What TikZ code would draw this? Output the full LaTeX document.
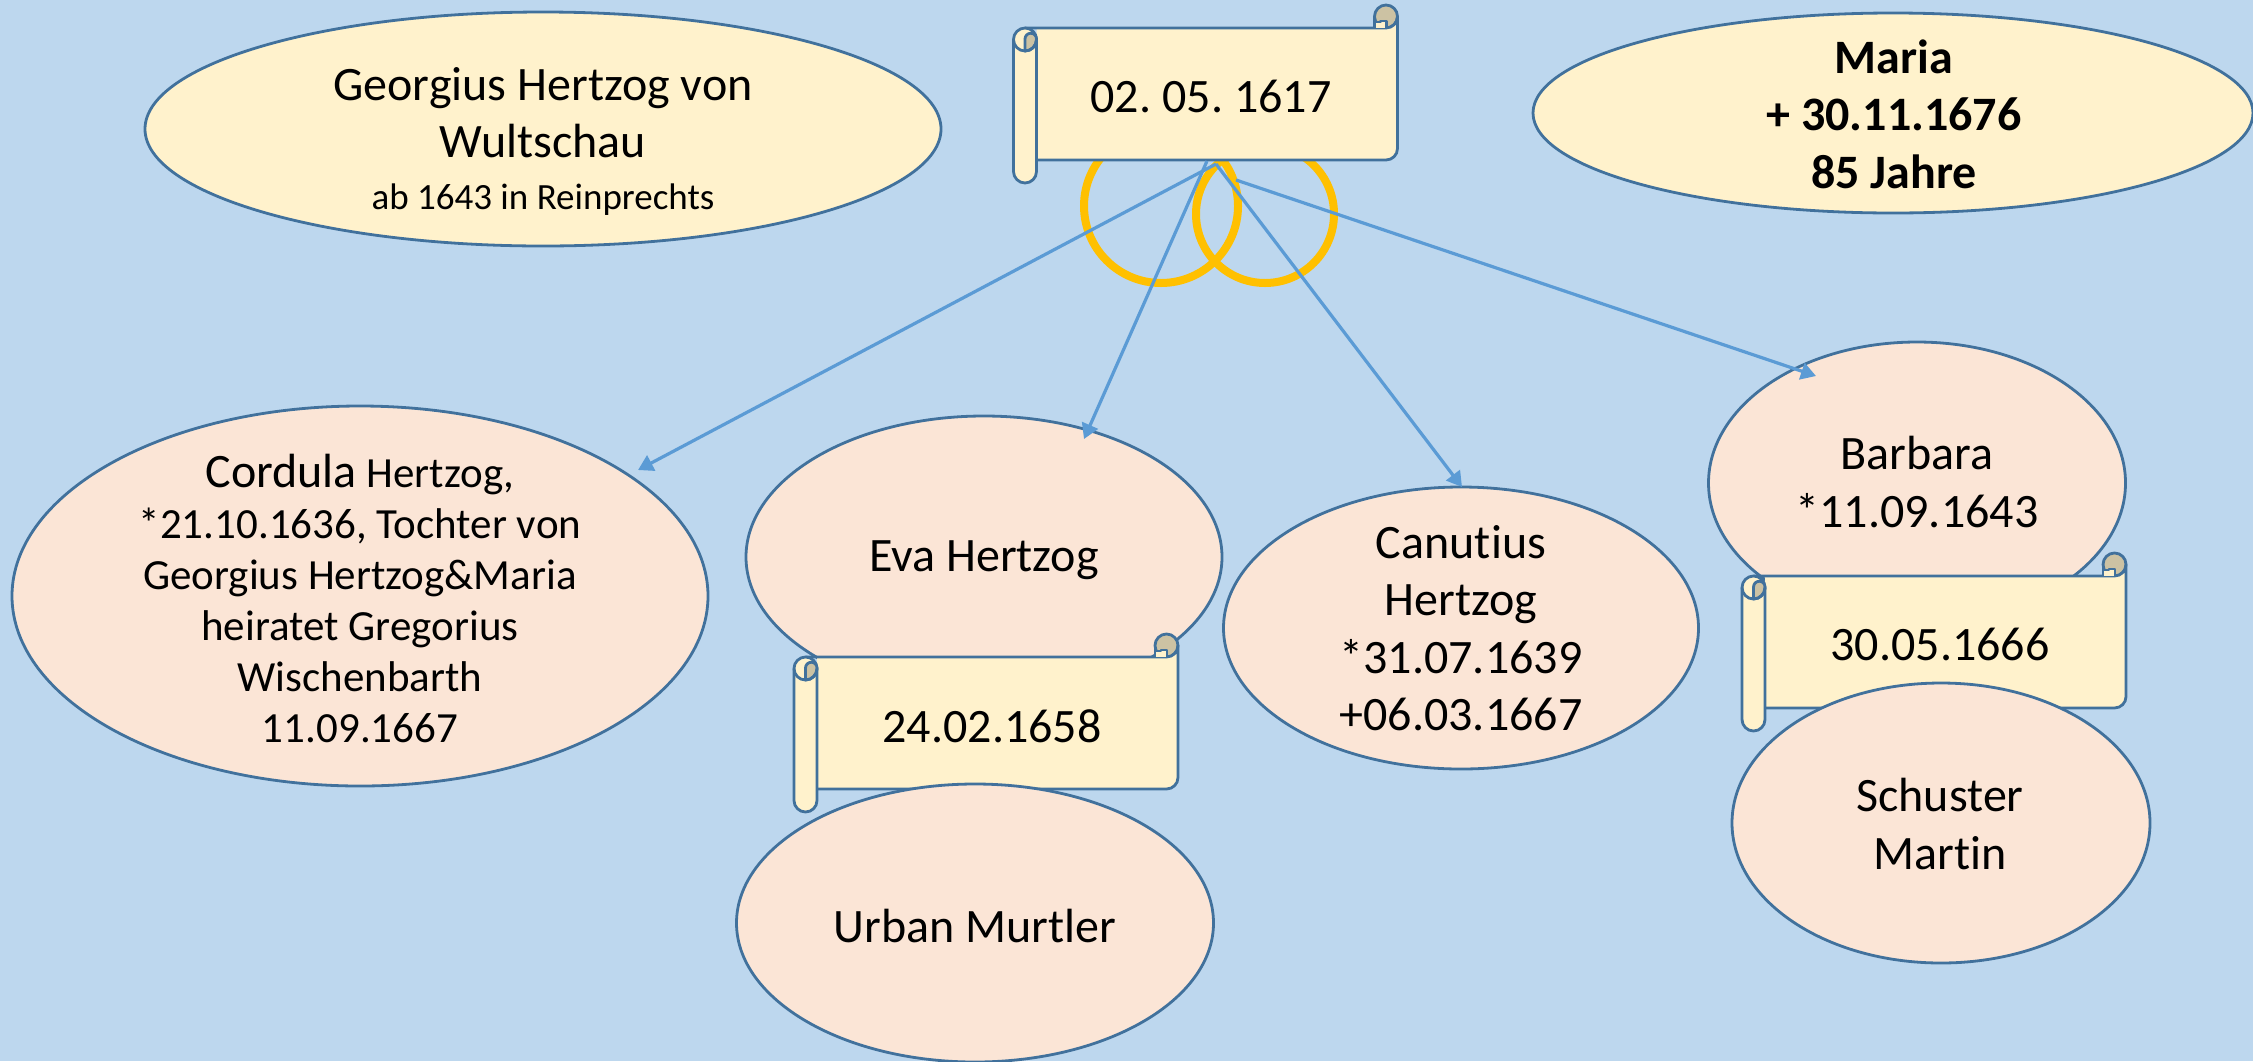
\documentclass[tikz,border=0pt]{standalone}
\usepackage{fontspec}
\setmainfont[Ligatures=NoCommon]{Carlito}
\usetikzlibrary{shapes.geometric,arrows.meta}
\definecolor{bgblue}{HTML}{BDD7EE}
\definecolor{cream}{HTML}{FFF2CC}
\definecolor{peach}{HTML}{FBE5D6}
\definecolor{edgeblue}{HTML}{41719C}
\definecolor{arrowblue}{HTML}{5B9BD5}
\definecolor{ringgold}{HTML}{FFC000}
\definecolor{curl}{HTML}{CCC2A3}
\tikzset{
  x=1pt,y=-1pt,
  oval/.style={ellipse,draw=edgeblue,line width=2.8pt,inner sep=0pt,outer sep=0pt},
  parent/.style={oval,fill=cream},
  child/.style={oval,fill=peach},
  big/.style={font=\fontsize{48}{57.5}\selectfont,align=center,inner sep=0pt,text=black},
  arrowline/.style={draw=arrowblue,line width=3.2pt,-{Triangle[length=15pt,width=17pt]}},
  ring/.style={draw=ringgold,line width=8pt},
  scrolledge/.style={draw=edgeblue,line width=2.8pt,line join=round},
  scrollbox/.pic={
    \fill[curl,scrolledge] (372.5,11.5) circle[radius=11.5pt];
    \fill[cream] (11.5,23) -- (372.5,23) arc[start angle=270,end angle=360,radius=11.5pt]
       -- (384,143.5) arc[start angle=0,end angle=-90,radius=11.5pt] -- (23,155) -- (23,23) -- cycle;
    \draw[scrolledge] (11.5,23) -- (372.5,23) arc[start angle=270,end angle=360,radius=11.5pt]
       -- (384,143.5) arc[start angle=0,end angle=-90,radius=11.5pt] -- (23,155);
    \fill[cream] (361,23) -- (361,17) -- (373,17) -- (373,23) -- cycle;
    \draw[scrolledge] (361,11.5) -- (361,23);
    \draw[scrolledge] (361,17) -- (367,17) -- (367,16) -- (373,16) -- (373,23);
    \fill[cream,scrolledge] (0,34.5) arc[start angle=180,end angle=90,radius=11.5pt]
       arc[start angle=90,end angle=0,radius=11.5pt] -- (23,166.5)
       arc[start angle=0,end angle=-180,radius=11.5pt] -- cycle;
    \fill[curl,scrolledge] (11.5,46) -- (11.5,34) arc[start angle=180,end angle=0,radius=5.75pt]
       -- (23,34.5) arc[start angle=0,end angle=-90,radius=11.5pt] -- cycle;
    \draw[scrolledge] (0,34.5) arc[start angle=180,end angle=360,radius=11.5pt];
  }
}
\begin{document}
\begin{tikzpicture}
\useasboundingbox (0,0) rectangle (2253,1061);
\fill[bgblue] (0,0) rectangle (2253,1061);

% rings
\node[circle,ring,minimum size=154pt,inner sep=0pt] (ringL) at (1161,206) {};
\node[circle,ring,minimum size=138pt,inner sep=0pt] (ringR) at (1265,214) {};

% parents
\node[parent,minimum width=796pt,minimum height=234pt] (georgius) at (543,129) {};
\node[big] (georgiusText) at (543,141) {Georgius Hertzog von\\Wultschau\\[-6pt]{\fontsize{37}{42}\selectfont ab 1643 in Reinprechts}};
\node[parent,minimum width=720pt,minimum height=200pt] (maria) at (1893,113) {};
\node[big,font=\fontsize{48}{57.5}\selectfont\bfseries] (mariaText) at (1894,114) {Maria\\+ 30.11.1676\\85 Jahre};

% marriage scroll
\pic at (1013.5,5) {scrollbox};
\node[big] (wedding) at (1211,96) {02.\hspace{11pt}05.\hspace{11pt}1617};

% children
\node[child,minimum width=696pt,minimum height=380pt] (cordula) at (360,596) {};
\node[big,font=\fontsize{43}{51}\selectfont] (cordulaText) at (360,598) {{\fontsize{48}{51}\selectfont Cordula} Hertzog,\\*21.10.1636, Tochter von\\Georgius Hertzog\&Maria\\heiratet Gregorius\\Wischenbarth\\11.09.1667};

\node[child,minimum width=476pt,minimum height=282pt] (eva) at (984,557) {};
\node[big] (evaText) at (984,560) {Eva Hertzog};
\pic at (794,634) {scrollbox};
\node[big] (evaDate) at (992,726) {24.02.1658};
\node[child,minimum width=477pt,minimum height=278pt] (urban) at (975,923) {};
\node[big] (urbanText) at (975,926) {Urban Murtler};

\node[child,minimum width=475pt,minimum height=282pt] (canutius) at (1461,628) {};
\node[big] (canutiusText) at (1461,628) {Canutius\\Hertzog\\*31.07.1639\\+06.03.1667};

\node[child,minimum width=417pt,minimum height=282pt] (barbara) at (1917,483) {};
\node[big] (barbaraText) at (1917,482) {Barbara\\*11.09.1643};
\pic at (1742,553) {scrollbox};
\node[big] (barbaraDate) at (1940,644) {30.05.1666};
\node[child,minimum width=418pt,minimum height=280pt] (schuster) at (1941,823) {};
\node[big] (schusterText) at (1940,824) {Schuster\\Martin};

% connectors
\coordinate (fromA) at (1216,164);
\coordinate (fromB) at (1207,161);
\coordinate (fromC) at (1236,180);
\coordinate (toCordula) at (638,470);
\coordinate (toEva) at (1084,439);
\coordinate (toCanutius) at (1462,487);
\coordinate (toBarbara) at (1816,376);
\draw[arrowline] (fromA) -- (toCordula);
\draw[arrowline] (fromB) -- (toEva);
\draw[arrowline] (fromA) -- (toCanutius);
\draw[arrowline] (fromC) -- (toBarbara);
\end{tikzpicture}
\end{document}
